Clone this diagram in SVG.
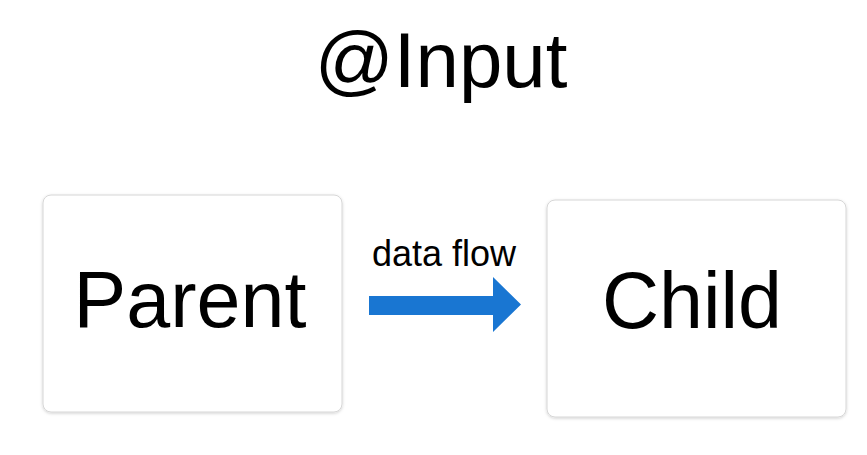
<svg xmlns="http://www.w3.org/2000/svg" width="867" height="455" viewBox="0 0 867 455">
<style>
.box{fill:#ffffff;stroke:#d6d6d6;stroke-width:1;filter:url(#sh)}
.big{font-family:"Liberation Sans",Arial,sans-serif;font-size:79px;fill:#000;text-anchor:middle}
.title{font-family:"Liberation Sans",Arial,sans-serif;font-size:78px;fill:#000;text-anchor:middle}
.lbl{font-family:"Liberation Sans",Arial,sans-serif;font-size:36px;fill:#000;text-anchor:middle}
</style>
<defs>
<filter id="sh" x="-10%" y="-10%" width="120%" height="120%">
<feDropShadow dx="0" dy="1" stdDeviation="1.5" flood-color="#000" flood-opacity="0.18"/>
</filter>
</defs>
<rect width="867" height="455" fill="#ffffff"/>
<text class="title" x="441" y="87">@Input</text>
<g id="parent">
<rect class="box" x="43" y="195" width="299" height="217" rx="8"/>
<text class="big" x="190" y="327">Parent</text>
</g>
<g id="child">
<rect class="box" x="547" y="200" width="299" height="217" rx="8"/>
<text class="big" x="692" y="328">Child</text>
</g>
<g id="connectors">
<text class="lbl" x="444" y="266">data flow</text>
<polygon points="369,296 493,296 493,277 521,304.5 493,332 493,315 369,315" fill="#1976d2"/>
</g>
</svg>
